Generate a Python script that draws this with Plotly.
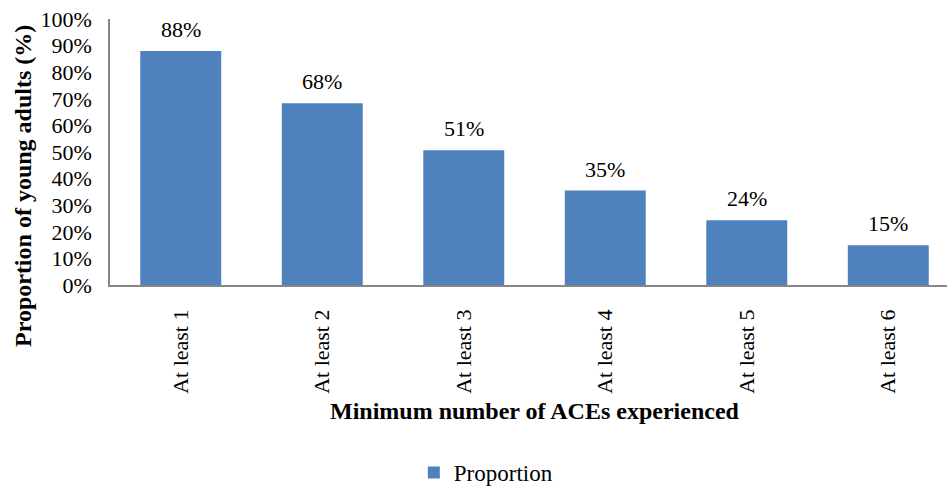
import plotly.graph_objects as go

categories = ["At least 1", "At least 2", "At least 3", "At least 4", "At least 5", "At least 6"]
values = [88, 68, 51, 35, 24, 15]
bar_tops = [88.0, 68.3, 50.7, 35.5, 24.3, 14.9]
labels = [f"{v}%" for v in values]

FONT = "Times New Roman, Liberation Serif, serif"

fig = go.Figure()
fig.add_trace(go.Bar(
    x=categories, y=bar_tops, name="Proportion",
    marker=dict(color="#4F81BD", line=dict(width=0)),
))
for c, v, t in zip(categories, bar_tops, labels):
    fig.add_annotation(x=c, y=v, text=t, showarrow=False, yanchor="bottom",
                       yshift=7, font=dict(family=FONT, size=22, color="#000000"))

# axis titles as paper annotations
fig.add_annotation(xref="paper", yref="paper", x=-0.104, y=0.372, xanchor="center", yanchor="middle",
                   text="<b>Proportion of young adults (%)</b>", textangle=-90, showarrow=False,
                   font=dict(family=FONT, size=24, color="#000000"))
fig.add_annotation(xref="paper", yref="paper", x=0.508, y=-0.474, xanchor="center", yanchor="middle",
                   text="<b>Minimum number of ACEs experienced</b>", showarrow=False,
                   font=dict(family=FONT, size=24, color="#000000"))

fig.update_layout(
    width=947, height=489,
    margin=dict(l=110, r=0, t=19, b=204, autoexpand=False),
    paper_bgcolor="white", plot_bgcolor="white",
    bargap=0.428,
    font=dict(family=FONT, color="#000000"),
    showlegend=True,
    legend=dict(orientation="h", x=0.449, xanchor="center", y=-0.624, yanchor="top",
                font=dict(family=FONT, size=23)),
    xaxis=dict(
        range=[-0.5, 5.415], automargin=False,
        showline=True, linecolor="#868686", linewidth=1.5,
        tickangle=-90, tickfont=dict(family=FONT, size=22),
        ticks="", showgrid=False, ticklabelstandoff=14,
    ),
    yaxis=dict(
        range=[0, 100], dtick=10, ticksuffix="%", automargin=False,
        showline=True, linecolor="#868686", linewidth=1.5,
        tickfont=dict(family=FONT, size=22), ticklabelstandoff=12,
        ticks="", showgrid=False, zeroline=False,
    ),
)
fig.write_html("out.html")
